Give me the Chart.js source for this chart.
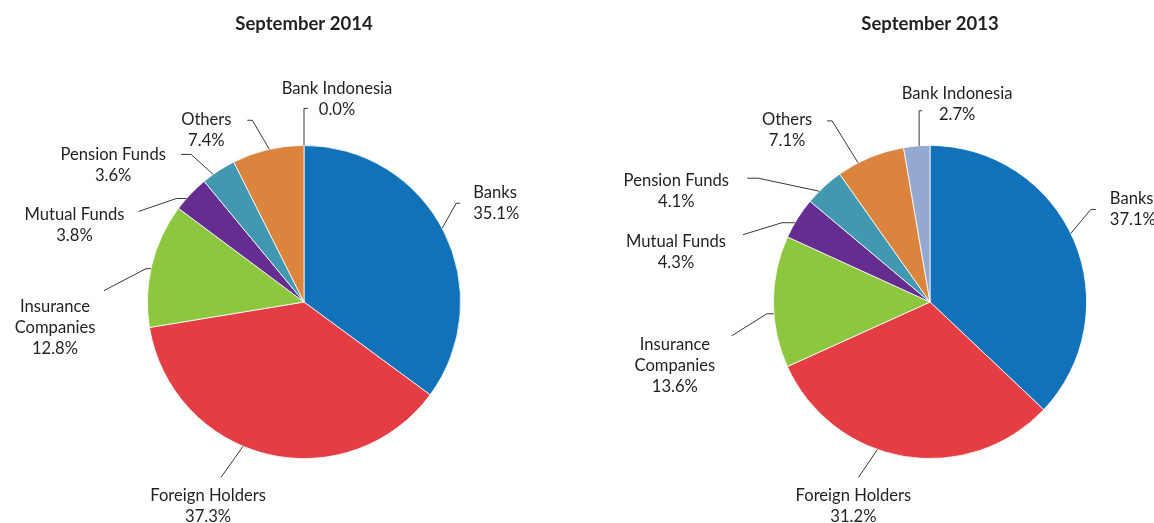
<!DOCTYPE html>
<html>
<head>
<meta charset="utf-8">
<script src="https://cdn.jsdelivr.net/npm/chart.js@4"></script>
<style>
  body { margin: 0; background: #fff; }
  .wrap { position: absolute; top: 0; width: 577px; height: 523px; }
</style>
</head>
<body>
<div class="wrap" style="left:0"><canvas id="pie2014" width="577" height="523"></canvas></div>
<div class="wrap" style="left:577px"><canvas id="pie2013" width="577" height="523"></canvas></div>
<script>
const categories = ['Banks', 'Foreign Holders', ['Insurance', 'Companies'], 'Mutual Funds', 'Pension Funds', 'Others', 'Bank Indonesia'];
const sept2014 = [35.1, 37.3, 12.8, 3.8, 3.6, 7.4, 0.0];
const sept2013 = [37.1, 31.2, 13.6, 4.3, 4.1, 7.1, 2.7];
const sliceColors = ['#1172BA', '#E43D44', '#8DC63F', '#652D90', '#4298B0', '#DB843D', '#93A9D0'];

const inkColor = '#231F20';
const labelFont = '16.6px Lato';

// leader line layout per slice: t = where on the arc it starts (0..1 of the slice),
// elbow/end = offsets of the bends, text = offset of the first text line from the line end
const leaders2014 = [
  { t: 0.49, elbow: [14, -25], end: [4, 0], text: [13, -12], align: 'left' },
  { t: 0.57, elbow: [-22, 31], end: [0, 0], text: [-13, 17], align: 'center' },
  { t: 0.47, elbow: [-5, 0], end: [-42, 22], text: [-49, 14], align: 'center' },
  { t: 0.34, elbow: [-10, 0], end: [-38, 13], text: [-64, 2], align: 'center' },
  { t: 0.32, elbow: [-22, -20], end: [-10, 0], text: [-68, -1], align: 'center' },
  { t: 0.52, elbow: [-17, -29], end: [-5, 0], text: [-41, -2], align: 'center' },
  { t: 0.5, elbow: [0, -37], end: [4, 0], text: [29, -21], align: 'center' }
];
const leaders2013 = [
  { t: 0.48, elbow: [20, -24], end: [5, 0], text: [14, -12], align: 'left' },
  { t: 0.59, elbow: [-19, 28], end: [0, 0], text: [-5, 17], align: 'center' },
  { t: 0.41, elbow: [-7, 0], end: [-35, 22], text: [-57, 7], align: 'center' },
  { t: 0.38, elbow: [-13, 0], end: [-39, 12], text: [-67, 5], align: 'center' },
  { t: 0.34, elbow: [-61, -13], end: [-11, 0], text: [-71, 1], align: 'center' },
  { t: 0.31, elbow: [-26, -42], end: [-5, 0], text: [-40, -3], align: 'center' },
  { t: 0.59, elbow: [0, -35], end: [3, 0], text: [35, -19], align: 'center' }
];

const leaderLabels = {
  id: 'leaderLabels',
  afterDatasetsDraw(chart, args, opts) {
    const ctx = chart.ctx;
    const meta = chart.getDatasetMeta(0);
    const values = chart.data.datasets[0].data;
    ctx.save();
    meta.data.forEach((arc, i) => {
      const p = arc.getProps(['x', 'y', 'startAngle', 'endAngle', 'outerRadius'], true);
      const lay = opts.layout[i];
      const a = p.startAngle + lay.t * (p.endAngle - p.startAngle);
      const x0 = p.x + p.outerRadius * Math.cos(a);
      const y0 = p.y + p.outerRadius * Math.sin(a);
      const x1 = x0 + lay.elbow[0], y1 = y0 + lay.elbow[1];
      const x2 = x1 + lay.end[0], y2 = y1 + lay.end[1];
      ctx.beginPath();
      ctx.moveTo(x0, y0);
      ctx.lineTo(x1, y1);
      ctx.lineTo(x2, y2);
      ctx.strokeStyle = inkColor;
      ctx.lineWidth = 0.9;
      ctx.stroke();

      let lines = chart.data.labels[i];
      lines = Array.isArray(lines) ? lines.slice() : [lines];
      lines.push(values[i].toFixed(1) + '%');
      ctx.font = labelFont;
      ctx.fillStyle = inkColor;
      ctx.textAlign = lay.align;
      ctx.textBaseline = 'middle';
      // +1.5: Lato sits a little high on a 'middle' baseline
      lines.forEach((s, k) => ctx.fillText(s, x2 + lay.text[0], y2 + lay.text[1] + 1.5 + k * 21));
    });
    ctx.restore();
  }
};

function makePie(id, title, values, padding, layout) {
  return new Chart(document.getElementById(id), {
    type: 'pie',
    data: {
      labels: categories,
      datasets: [{
        data: values,
        backgroundColor: sliceColors,
        borderColor: '#ffffff',
        borderWidth: 0.8
      }]
    },
    options: {
      responsive: false,
      animation: false,
      layout: { padding: padding },
      plugins: {
        legend: { display: false },
        tooltip: { enabled: false },
        title: {
          display: true,
          text: title,
          color: inkColor,
          font: { family: 'Lato', size: 18.5, weight: 'bold' },
          padding: { top: 12.5, bottom: 110.3 }
        },
        leaderLabels: { layout: layout }
      }
    },
    plugins: [leaderLabels]
  });
}

makePie('pie2014', 'September 2014', sept2014, { left: 147, right: 116, top: 0, bottom: 64 }, leaders2014);
makePie('pie2013', 'September 2013', sept2013, { left: 196, right: 67, top: 0, bottom: 64 }, leaders2013);
</script>
</body>
</html>
